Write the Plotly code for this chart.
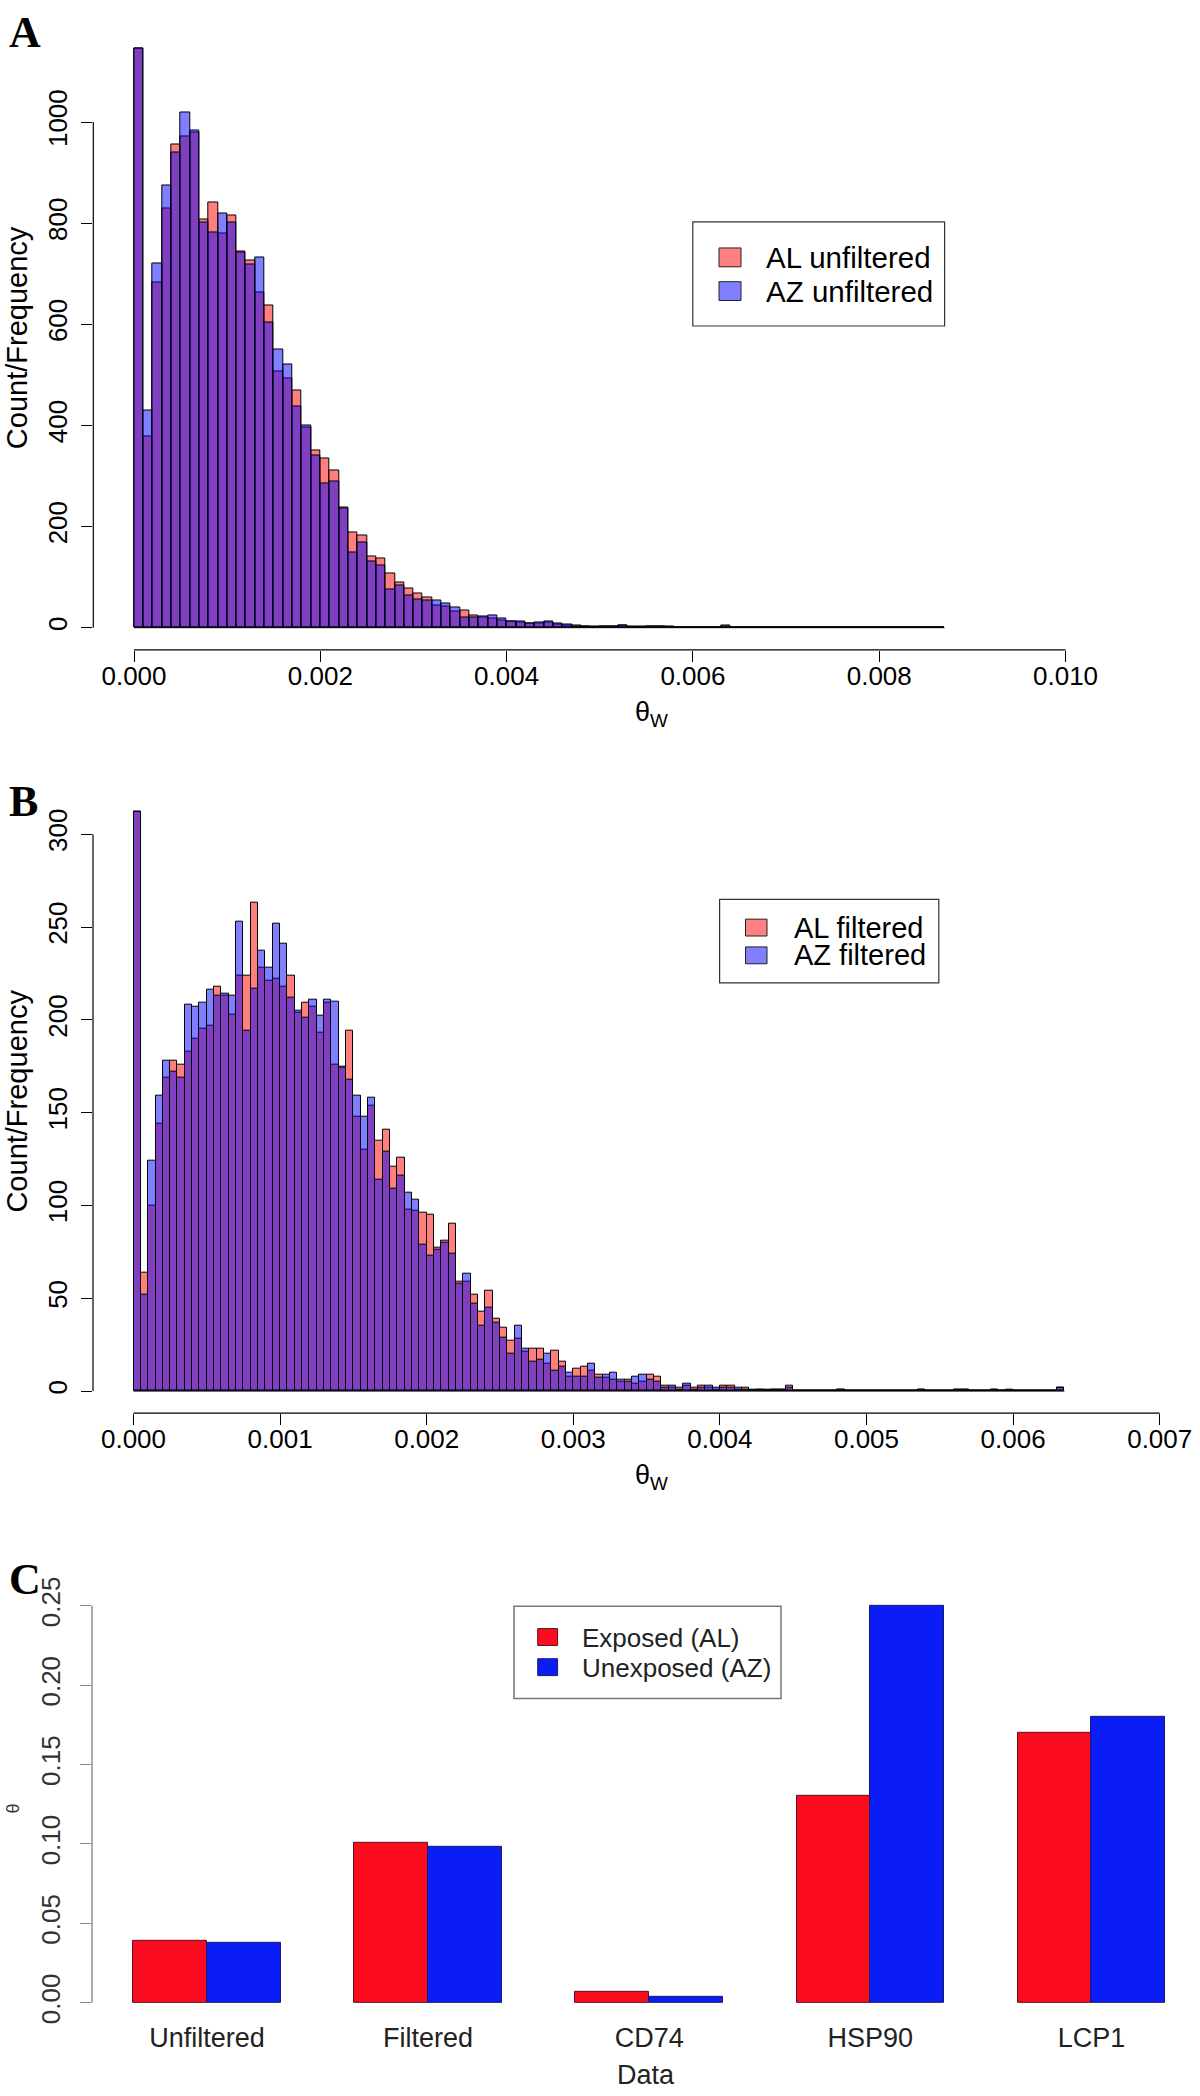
import plotly.graph_objects as go

W, H = 1200, 2096

# ---------------- data ----------------
binwidth_a = 0.0001
al_unfiltered = [1145, 378, 682, 829, 956, 972, 980, 808, 840, 780,
                 816, 744, 727, 662, 638, 506, 492, 469, 396, 350,
                 335, 310, 238, 188, 182, 141, 136, 107, 90, 78,
                 67, 59, 44, 42, 33, 35, 24, 20, 18, 15,
                 13, 11, 9, 8, 10, 6, 5, 4, 2, 2,
                 3, 3, 5, 2, 1, 3, 2, 1, 1, 1,
                 1, 0, 1, 4, 1, 0, 1, 0, 1, 0,
                 1, 0, 1, 0, 1, 0, 0, 1, 0, 0,
                 1, 0, 0, 0, 0, 0, 1]
az_unfiltered = [1145, 429, 721, 874, 939, 1018, 983, 802, 782, 819,
                 801, 743, 719, 733, 603, 550, 520, 438, 399, 341,
                 285, 290, 235, 149, 169, 130, 123, 75, 84, 63,
                 56, 54, 54, 47, 40, 20, 20, 22, 24, 18,
                 12, 12, 8, 10, 12, 8, 7, 3, 2, 1,
                 2, 2, 4, 1, 2, 2, 3, 2, 1, 0,
                 1, 1, 0, 3, 1, 1, 0, 0, 1, 1,
                 0, 0, 0, 1, 0, 0, 1, 0, 0, 0,
                 0, 0, 0, 1, 0, 0, 1]

binwidth_b = 0.00005
al_filtered = [312, 64, 100, 144, 169, 178, 176, 183, 190, 195,
               197, 218, 213, 203, 224, 224, 263, 228, 221, 222,
               218, 224, 204, 209, 207, 193, 209, 176, 175, 194,
               148, 130, 154, 135, 141, 121, 126, 98, 97, 96,
               95, 77, 81, 90, 59, 59, 52, 43, 54, 39,
               34, 27, 28, 21, 23, 23, 15, 22, 16, 8,
               12, 13, 11, 9, 7, 6, 5, 6, 4, 5,
               9, 8, 3, 2, 2, 3, 2, 3, 2, 1,
               3, 3, 1, 2, 0, 1, 1, 1, 1, 3,
               0, 0, 0, 0, 0, 0, 1, 0, 0, 0,
               0, 0, 0, 0, 0, 0, 0, 1, 0, 0,
               0, 0, 1, 1, 0, 0, 0, 1, 0, 1,
               0, 0, 0, 0, 0, 0, 2]
az_filtered = [312, 52, 124, 159, 178, 172, 169, 208, 207, 209,
               216, 213, 214, 213, 253, 194, 217, 237, 228, 252,
               241, 212, 205, 201, 211, 202, 211, 210, 174, 168,
               159, 148, 158, 114, 129, 109, 116, 107, 103, 79,
               73, 76, 80, 74, 58, 63, 47, 35, 45, 37,
               29, 20, 35, 23, 16, 17, 20, 11, 13, 10,
               8, 8, 15, 7, 9, 10, 6, 5, 8, 9,
               6, 5, 2, 3, 1, 4, 1, 2, 3, 2,
               2, 2, 2, 1, 1, 1, 0, 1, 1, 2,
               0, 0, 0, 0, 0, 0, 1, 0, 0, 0,
               0, 0, 0, 0, 0, 0, 0, 1, 0, 0,
               0, 0, 1, 1, 0, 0, 0, 1, 0, 0,
               0, 0, 0, 0, 0, 0, 2]

a_tickvals = [0.000, 0.002, 0.004, 0.006, 0.008, 0.010]
a_ticktext = ["0.000", "0.002", "0.004", "0.006", "0.008", "0.010"]
a_ytickvals = [0, 200, 400, 600, 800, 1000]
b_tickvals = [0.000, 0.001, 0.002, 0.003, 0.004, 0.005, 0.006, 0.007]
b_ticktext = ["0.000", "0.001", "0.002", "0.003", "0.004", "0.005", "0.006", "0.007"]
b_ytickvals = [0, 50, 100, 150, 200, 250, 300]

categories = ["Unfiltered", "Filtered", "CD74", "HSP90", "LCP1"]
exposed_al = [0.039, 0.101, 0.007, 0.130, 0.170]
unexposed_az = [0.038, 0.098, 0.004, 0.250, 0.180]
c_ytickvals = [0.00, 0.05, 0.10, 0.15, 0.20, 0.25]
c_yticktext = ["0.00", "0.05", "0.10", "0.15", "0.20", "0.25"]

# ---------------- helpers ----------------
def px(x):
    return x / W

def py(y):
    return 1 - y / H

SANS = "Liberation Sans, Arial, Helvetica, sans-serif"
SERIF = "Liberation Serif, Times New Roman, serif"
RED_T = "rgba(255,0,0,0.5)"
BLUE_T = "rgba(0,0,255,0.5)"
C_RED = "#FB0D1F"
C_BLUE = "#0B1DF6"

fig = go.Figure()

def hist_traces(counts_al, counts_az, bw, xa, ya):
    xs_al = [(i + 0.5) * bw for i in range(len(counts_al))]
    xs_az = [(i + 0.5) * bw for i in range(len(counts_az))]
    fig.add_trace(go.Bar(x=xs_al, y=counts_al, width=bw, xaxis=xa, yaxis=ya,
                         marker=dict(color=RED_T, line=dict(color="black", width=1)),
                         showlegend=False, hoverinfo="x+y"))
    fig.add_trace(go.Bar(x=xs_az, y=counts_az, width=bw, xaxis=xa, yaxis=ya,
                         marker=dict(color=BLUE_T, line=dict(color="black", width=1)),
                         showlegend=False, hoverinfo="x+y"))
    n = max(len(counts_al), len(counts_az))
    fig.add_trace(go.Scatter(x=[0, n * bw], y=[0, 0], mode="lines", xaxis=xa, yaxis=ya,
                             line=dict(color="black", width=1), showlegend=False,
                             hoverinfo="skip"))

hist_traces(al_unfiltered, az_unfiltered, binwidth_a, "x", "y")
hist_traces(al_filtered, az_filtered, binwidth_b, "x2", "y2")

fig.add_trace(go.Bar(x=categories, y=exposed_al, width=1/3, offset=-1/3, xaxis="x3", yaxis="y3",
                     marker=dict(color=C_RED, line=dict(color="#5a1020", width=1)),
                     name="Exposed (AL)", showlegend=False))
fig.add_trace(go.Bar(x=categories, y=unexposed_az, width=1/3, offset=0, xaxis="x3", yaxis="y3",
                     marker=dict(color=C_BLUE, line=dict(color="#1a1a6a", width=1)),
                     name="Unexposed (AZ)", showlegend=False))

tickfont = dict(family=SANS, size=26, color="black")
common_x = dict(ticks="outside", ticklen=11, tickwidth=1.2, tickcolor="black",
                showline=False, showgrid=False, zeroline=False, tickfont=tickfont,
                ticklabelstandoff=-8)
common_y = dict(ticks="outside", ticklen=11, tickwidth=1.2, tickcolor="black",
                showline=False, showgrid=False, zeroline=False, tickfont=tickfont,
                tickangle=-90, ticklabelstandoff=4)

fig.update_layout(
    xaxis=dict(domain=[px(93.3), px(1190)], range=[-0.0004369, 0.011336],
               tickmode="array", tickvals=a_tickvals, ticktext=a_ticktext,
               anchor="y", **common_x),
    yaxis=dict(domain=[py(642.3), py(13.6)], range=[-43.7, 1189],
               tickmode="array", tickvals=a_ytickvals, anchor="x", **common_y),
    xaxis2=dict(domain=[px(93), px(1200)], range=[-0.0002763, 0.0072749],
                tickmode="array", tickvals=b_tickvals, ticktext=b_ticktext,
                anchor="y2", **common_x),
    yaxis2=dict(domain=[py(1412.3), py(783.4)], range=[-11.9, 324.0],
                tickmode="array", tickvals=b_ytickvals, anchor="x2", **common_y),
    xaxis3=dict(domain=[px(92), px(1200)], range=[-0.5201, 4.4912], type="category",
                ticks="", showline=False, showgrid=False, zeroline=False,
                tickfont=dict(family=SANS, size=27, color="#222"), anchor="y3",
                ticklabelstandoff=0),
    yaxis3=dict(domain=[py(2023), py(1590.5)], range=[-0.01, 0.26],
                tickmode="array", tickvals=c_ytickvals, ticktext=c_yticktext, tickangle=-90,
                ticks="outside", ticklen=11, tickwidth=1.2, tickcolor="#888",
                showline=False, showgrid=False, zeroline=False, ticklabelstandoff=10,
                tickfont=dict(family=SANS, size=26, color="#333"), anchor="x3"),
)

shapes = []
# R-style axis lines spanning only the tick range
shapes.append(dict(type="line", xref="x", yref="y domain", x0=a_tickvals[0], x1=a_tickvals[-1],
                   y0=0, y1=0, line=dict(color="black", width=1.2)))
shapes.append(dict(type="line", xref="x domain", yref="y", x0=0, x1=0, y0=a_ytickvals[0],
                   y1=a_ytickvals[-1], line=dict(color="black", width=1.2)))
shapes.append(dict(type="line", xref="x2", yref="y2 domain", x0=b_tickvals[0], x1=b_tickvals[-1],
                   y0=0, y1=0, line=dict(color="black", width=1.2)))
shapes.append(dict(type="line", xref="x2 domain", yref="y2", x0=0, x1=0, y0=b_ytickvals[0],
                   y1=b_ytickvals[-1], line=dict(color="black", width=1.2)))
shapes.append(dict(type="line", xref="x3 domain", yref="y3", x0=0, x1=0, y0=c_ytickvals[0],
                   y1=c_ytickvals[-1], line=dict(color="#888", width=1.4)))

annotations = []

def legend_box(x0, y0, x1, y1, border, width):
    shapes.append(dict(type="rect", xref="paper", yref="paper", x0=px(x0), x1=px(x1),
                       y0=py(y1), y1=py(y0), line=dict(color=border, width=width),
                       fillcolor="white", layer="above"))

def swatch(x0, y0, x1, y1, color, border):
    shapes.append(dict(type="rect", xref="paper", yref="paper", x0=px(x0), x1=px(x1),
                       y0=py(y1), y1=py(y0), line=dict(color=border, width=1),
                       fillcolor=color, layer="above"))

def text(x, y, s, size, color="black", family=SANS, xanchor="left", angle=0):
    annotations.append(dict(xref="paper", yref="paper", x=px(x), y=py(y), text=s,
                            showarrow=False, xanchor=xanchor, yanchor="middle",
                            textangle=angle, font=dict(family=family, size=size, color=color)))

# Legend A
legend_box(692.8, 210.7, 944.6, 315.7, "#333", 1.2)
swatch(719, 237, 741, 256, "#FF8080", "#222")
swatch(719, 271, 741, 290, "#8080FF", "#222")
text(764, 247, "AL unfiltered", 29.5)
text(764, 281, "AZ unfiltered", 29.5)

# Legend B
legend_box(719.6, 894, 938.8, 978.3, "#333", 1.2)
swatch(745.5, 914, 767, 931, "#FF8080", "#222")
swatch(745.5, 942, 767, 959, "#8080FF", "#222")
text(792, 922.5, "AL filtered", 29)
text(792, 950.5, "AZ filtered", 29)

# Legend C
legend_box(514, 1607, 781, 1700, "#777", 1.5)
swatch(537.7, 1629.6, 557.6, 1646.6, C_RED, "#5a1020")
swatch(537.7, 1660, 557.6, 1677, C_BLUE, "#1a1a6a")
text(580, 1638.7, "Exposed (AL)", 26, color="#222")
text(580, 1669.3, "Unexposed (AZ)", 26, color="#222")

# Panel letters
text(24.5, 20, "<b>A</b>", 44, family=SERIF, xanchor="center")
text(23.5, 795, "<b>B</b>", 44, family=SERIF, xanchor="center")
text(25, 1580, "<b>C</b>", 44, family=SERIF, xanchor="center")

# Axis titles
text(17, 328, "Count/Frequency", 29, xanchor="center", angle=-90)
text(17, 1098, "Count/Frequency", 29, xanchor="center", angle=-90)
text(651, 707, "θ<sub>W</sub>", 27, xanchor="center")
text(651, 1477, "θ<sub>W</sub>", 27, xanchor="center")
text(13, 1811, "θ", 18, color="#333", xanchor="center", angle=-90)
text(646, 2080, "Data", 27, color="#222", xanchor="center")

fig.update_layout(
    width=W, height=H, margin=dict(l=0, r=0, t=0, b=0),
    paper_bgcolor="white", plot_bgcolor="white",
    barmode="overlay", bargap=0,
    shapes=shapes, annotations=annotations, showlegend=False,
    font=dict(family=SANS, color="black"),
)

fig.write_html("out.html", config={"displayModeBar": False},
               post_script="document.body.style.margin='0';document.body.style.overflow='hidden';")
